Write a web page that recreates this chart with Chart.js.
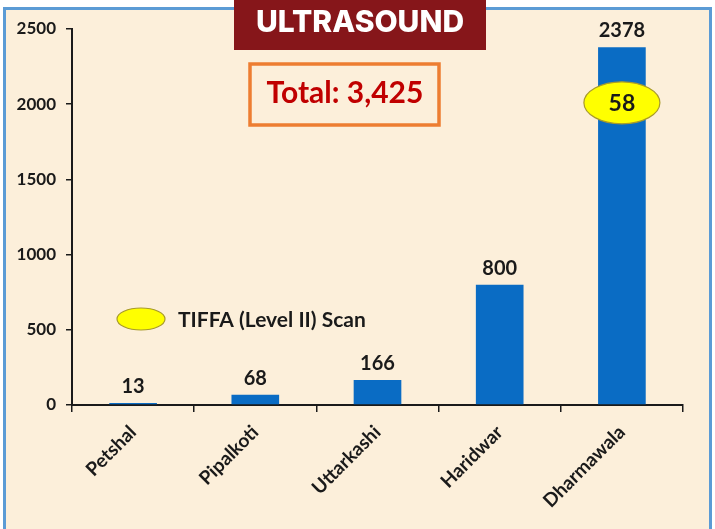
<!DOCTYPE html>
<html>
<head>
<meta charset="utf-8">
<script src="https://cdn.jsdelivr.net/npm/chart.js@4.4.1/dist/chart.umd.min.js"></script>
<style>
  html, body { margin: 0; padding: 0; background: #ffffff; }
  #wrap { width: 715px; height: 529px; position: relative; }
</style>
</head>
<body>
<div id="wrap"><canvas id="chart" width="715" height="529"></canvas></div>
<script>
const centres = ["Petshal", "Pipalkoti", "Uttarkashi", "Haridwar", "Dharmawala"]
const scans = [13, 68, 166, 800, 2378]
const tiffaScans = [null, null, null, null, 58]
const yTicks = [0, 500, 1000, 1500, 2000, 2500]
const chartTitle = "ULTRASOUND"
const totalLabel = "Total: 3,425"
const legendLabel = "TIFFA (Level II) Scan"

const FONT = "Lato, 'Open Sans', sans-serif"

const ellipse = (ctx, cx, cy, rx, ry) => {
  ctx.beginPath()
  ctx.ellipse(cx, cy, rx, ry, 0, 0, Math.PI * 2)
  ctx.fillStyle = "#ffff00"
  ctx.fill()
  ctx.lineWidth = 1.2
  ctx.strokeStyle = "#a89a2a"
  ctx.stroke()
}

const backdrop = {
  id: "backdrop",
  beforeDraw(chart) {
    const ctx = chart.ctx
    ctx.save()
    ctx.fillStyle = "#ffffff"
    ctx.fillRect(0, 0, chart.width, chart.height)
    ctx.fillStyle = "#fcefda"
    ctx.fillRect(4, 8, chart.width - 8, chart.height)
    ctx.strokeStyle = "#5b9bd5"
    ctx.lineWidth = 3
    ctx.strokeRect(4.5, 8.5, chart.width - 9, chart.height + 10)
    ctx.restore()
  },
  afterDraw(chart) {
    const ctx = chart.ctx
    const x = chart.scales.x
    const y = chart.scales.y
    ctx.save()

    // title box
    ctx.fillStyle = "#86161a"
    ctx.fillRect(234, 0, 252, 50)
    ctx.fillStyle = "#ffffff"
    ctx.font = "800 30px Inter, 'Open Sans', sans-serif"
    ctx.textAlign = "center"
    ctx.textBaseline = "middle"
    ctx.fillText(chartTitle, 360, 23)

    // total box
    ctx.fillStyle = "#fcefda"
    ctx.fillRect(250, 64, 189, 61)
    ctx.strokeStyle = "#ed7d31"
    ctx.lineWidth = 3.5
    ctx.strokeRect(250, 64, 189, 61)
    ctx.fillStyle = "#c00000"
    ctx.font = "bold 30px " + FONT
    ctx.fillText(totalLabel, 345, 93)

    // value labels
    ctx.fillStyle = "#1a1a1a"
    ctx.font = "bold 20px " + FONT
    ctx.textBaseline = "alphabetic"
    scans.forEach((v, i) => {
      ctx.fillText(String(v), x.getPixelForValue(i), y.getPixelForValue(v) - 10)
    })

    // TIFFA markers on bars
    tiffaScans.forEach((v, i) => {
      if (v == null) return
      const cx = x.getPixelForValue(i)
      const cy = y.getPixelForValue(scans[i] * 0.845)
      ellipse(ctx, cx, cy, 38, 21)
      ctx.fillStyle = "#1a1a1a"
      ctx.font = "bold 23px " + FONT
      ctx.textBaseline = "middle"
      ctx.fillText(String(v), cx, cy + 1)
    })

    // legend
    ellipse(ctx, 141, 319, 24, 11)
    ctx.fillStyle = "#1a1a1a"
    ctx.font = "bold 21px " + FONT
    ctx.textAlign = "left"
    ctx.textBaseline = "middle"
    ctx.fillText(legendLabel, 178, 320)

    ctx.restore()
  }
}

new Chart(document.getElementById("chart"), {
  type: "bar",
  data: {
    labels: centres,
    datasets: [
      {
        data: scans,
        backgroundColor: "#0a6cc4",
        categoryPercentage: 1,
        barPercentage: 0.39
      }
    ]
  },
  options: {
    responsive: false,
    animation: false,
    layout: { padding: { top: 29, right: 32, left: 0, bottom: 0 } },
    plugins: {
      legend: { display: false },
      tooltip: { enabled: false }
    },
    scales: {
      x: {
        afterFit: (scale) => { scale.height = 124 },
        border: { color: "#1a1a1a", width: 2 },
        grid: {
          offset: true,
          drawOnChartArea: false,
          color: "#1a1a1a",
          lineWidth: 1.5,
          tickLength: 7
        },
        ticks: {
          color: "#1a1a1a",
          font: { family: FONT, size: 19, weight: "bold" },
          minRotation: 45,
          maxRotation: 45,
          padding: 9
        }
      },
      y: {
        min: 0,
        max: 2500,
        afterFit: (scale) => { scale.width = 72 },
        afterBuildTicks: (scale) => { scale.ticks = yTicks.map((value) => ({ value })) },
        border: { color: "#1a1a1a", width: 2 },
        grid: {
          drawOnChartArea: false,
          color: "#1a1a1a",
          lineWidth: 1.5,
          tickLength: 6
        },
        ticks: {
          color: "#1a1a1a",
          font: { family: FONT, size: 17, weight: "bold" },
          padding: 10,
          callback: (value) => String(value)
        }
      }
    }
  },
  plugins: [backdrop]
})
</script>
</body>
</html>
